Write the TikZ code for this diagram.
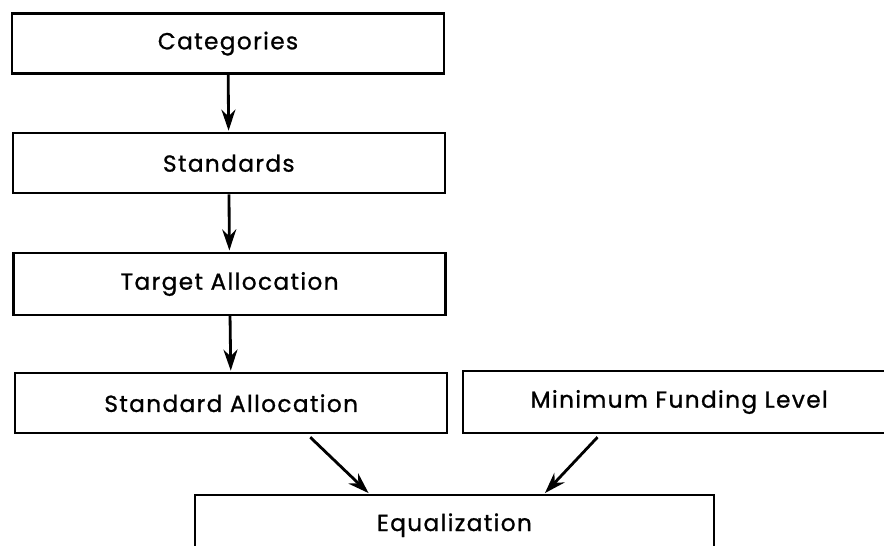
\documentclass[tikz,border=0pt]{standalone}
\usepackage{fontspec}
\setmainfont[LetterSpace=6,FakeBold=1]{Poppins}
\usetikzlibrary{arrows.meta}
\begin{document}
\begin{tikzpicture}[
	box/.style={draw, line width=1.6pt, minimum width=10.8cm, minimum height=1.5cm,
		font=\fontsize{16.5}{19}\selectfont},
	arr/.style={line width=2pt, -{Stealth[length=15pt, width=10pt]}, shorten >=1pt}]
	\clip (0,0) rectangle (22.1,-13.65);
	\node [box] (cat) at (5.70,-1.09) {Categories};
	\node [box] (std) at (5.72,-4.08) {Standards};
	\node [box, minimum height=1.55cm] (tgt) at (5.74,-7.10) {Target Allocation};
	\node [box] (sal) at (5.78,-10.08) {Standard Allocation};
	\node [box, minimum height=1.55cm] (mfl) at (16.98,-10.05) {Minimum Funding Level};
	\node [box, minimum width=12.98cm] (eq) at (11.36,-13.13) {Equalization};
	\draw [arr] (cat) -- (std);
	\draw [arr] (std) -- (tgt);
	\draw [arr] (tgt) -- (sal);
	\draw [arr, shorten <=3pt] ([xshift=1.9cm]sal.south) -- ([xshift=-2.12cm]eq.north);
	\draw [arr, shorten <=3pt] ([xshift=-1.97cm]mfl.south) -- ([xshift=2.24cm]eq.north);
\end{tikzpicture}
\end{document}
